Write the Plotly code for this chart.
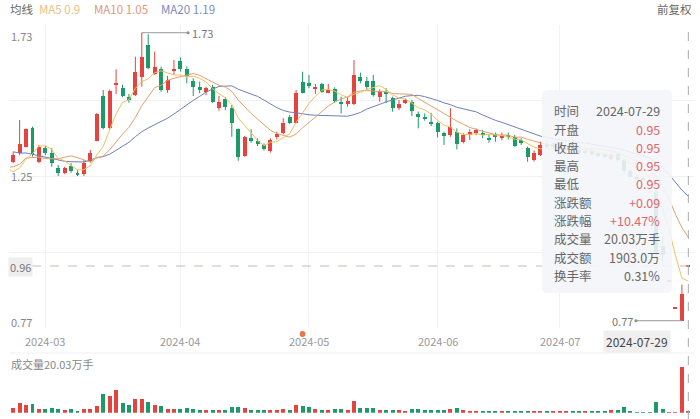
import numpy as np
import pandas as pd
import plotly.graph_objects as go

W, H = 700, 419
FONT = "Noto Sans CJK SC"

# ---------------- data ----------------
holidays = ["2024-02-09", "2024-02-12", "2024-02-13", "2024-02-14", "2024-02-15",
            "2024-02-16", "2024-04-04", "2024-04-05", "2024-05-01", "2024-05-02",
            "2024-05-03", "2024-06-10"]
all_days = [d.strftime("%Y-%m-%d") for d in pd.bdate_range("2024-01-19", "2024-07-29")]
dates_all = [d for d in all_days if d not in holidays]
N_PRIOR = 19
dates = dates_all[N_PRIOR:]          # visible trading days (2024-02-23 .. 2024-07-29)

# closes before the visible window (only used for the moving averages)
prior_close = [1.45, 1.40, 1.42, 1.44, 1.43, 1.40, 1.36, 1.34, 1.30, 1.29,
               1.28, 1.20, 1.30, 1.34, 1.38, 1.30, 1.26, 1.23, 1.223]

open_ = [1.300, 1.330, 1.350, 1.411, 1.300, 1.347, 1.330, 1.280, 1.261, 1.286,
         1.263, 1.259, 1.303, 1.370, 1.519, 1.411, 1.556, 1.545, 1.515, 1.522,
         1.581, 1.689, 1.592, 1.608, 1.539, 1.603, 1.637, 1.608, 1.569, 1.550,
         1.533, 1.550, 1.478, 1.508, 1.478, 1.409, 1.319, 1.380, 1.369, 1.357,
         1.337, 1.383, 1.397, 1.450, 1.430, 1.567, 1.561, 1.541, 1.559, 1.530,
         1.541, 1.500, 1.492, 1.492, 1.581, 1.570, 1.570, 1.517, 1.533, 1.511,
         1.478, 1.497, 1.500, 1.458, 1.450, 1.430, 1.428, 1.395, 1.389, 1.400,
         1.367, 1.389, 1.395, 1.397, 1.380, 1.391, 1.378, 1.389, 1.383, 1.372,
         1.345, 1.306, 1.322, 1.360, 1.350, 1.350, 1.340, 1.350, 1.340, 1.330,
         1.335, 1.330, 1.325, 1.310, 1.325, 1.306, 1.270, 1.250, 1.245, 1.240,
         1.200, 1.020, 0.900, 0.810, 0.770, 0.950]
high = [1.333, 1.439, 1.411, 1.417, 1.356, 1.352, 1.345, 1.289, 1.283, 1.295,
        1.272, 1.306, 1.339, 1.462, 1.539, 1.540, 1.608, 1.556, 1.526, 1.650,
        1.730, 1.725, 1.667, 1.617, 1.586, 1.639, 1.648, 1.617, 1.578, 1.567,
        1.550, 1.556, 1.519, 1.515, 1.489, 1.411, 1.386, 1.408, 1.378, 1.361,
        1.378, 1.400, 1.445, 1.456, 1.539, 1.600, 1.589, 1.559, 1.563, 1.559,
        1.548, 1.517, 1.517, 1.639, 1.597, 1.583, 1.589, 1.541, 1.545, 1.517,
        1.506, 1.511, 1.506, 1.467, 1.461, 1.463, 1.433, 1.400, 1.478, 1.411,
        1.395, 1.408, 1.411, 1.406, 1.389, 1.397, 1.397, 1.397, 1.389, 1.378,
        1.350, 1.337, 1.367, 1.370, 1.365, 1.365, 1.355, 1.355, 1.345, 1.340,
        1.340, 1.335, 1.330, 1.330, 1.330, 1.310, 1.275, 1.255, 1.250, 1.245,
        1.210, 1.050, 0.900, 0.810, 0.890, 0.950]
low = [1.295, 1.322, 1.347, 1.317, 1.295, 1.322, 1.283, 1.252, 1.259, 1.263,
       1.252, 1.252, 1.297, 1.368, 1.408, 1.408, 1.526, 1.515, 1.497, 1.519,
       1.550, 1.608, 1.589, 1.533, 1.530, 1.589, 1.600, 1.561, 1.519, 1.528,
       1.522, 1.497, 1.470, 1.472, 1.383, 1.303, 1.317, 1.363, 1.352, 1.337,
       1.330, 1.374, 1.392, 1.426, 1.428, 1.528, 1.545, 1.526, 1.530, 1.528,
       1.497, 1.461, 1.483, 1.489, 1.561, 1.541, 1.517, 1.500, 1.495, 1.467,
       1.472, 1.492, 1.452, 1.411, 1.437, 1.419, 1.381, 1.356, 1.383, 1.341,
       1.361, 1.372, 1.389, 1.378, 1.363, 1.367, 1.372, 1.374, 1.350, 1.356,
       1.300, 1.300, 1.319, 1.345, 1.345, 1.345, 1.335, 1.335, 1.325, 1.325,
       1.320, 1.315, 1.310, 1.305, 1.300, 1.260, 1.245, 1.240, 1.235, 1.230,
       0.980, 0.970, 0.900, 0.810, 0.770, 0.950]
close = [1.322, 1.359, 1.408, 1.322, 1.348, 1.330, 1.295, 1.261, 1.280, 1.270,
         1.259, 1.297, 1.328, 1.459, 1.411, 1.537, 1.561, 1.519, 1.506, 1.600,
         1.648, 1.611, 1.617, 1.539, 1.572, 1.608, 1.608, 1.586, 1.550, 1.539,
         1.545, 1.500, 1.500, 1.481, 1.428, 1.317, 1.381, 1.370, 1.359, 1.341,
         1.372, 1.392, 1.430, 1.430, 1.530, 1.530, 1.552, 1.550, 1.533, 1.539,
         1.503, 1.492, 1.502, 1.589, 1.570, 1.550, 1.522, 1.537, 1.528, 1.478,
         1.494, 1.506, 1.470, 1.452, 1.442, 1.426, 1.400, 1.389, 1.417, 1.359,
         1.389, 1.399, 1.406, 1.389, 1.372, 1.381, 1.389, 1.381, 1.352, 1.361,
         1.317, 1.330, 1.356, 1.350, 1.360, 1.360, 1.350, 1.340, 1.330, 1.335,
         1.325, 1.320, 1.315, 1.325, 1.305, 1.270, 1.250, 1.245, 1.240, 1.235,
         1.000, 0.990, 0.900, 0.810, 0.860, 0.950]
volume = [53, 100, 77, 87, 43, 43, 53, 43, 33, 40,
          20, 40, 43, 67, 193, 167, 233, 100, 77, 143,
          143, 110, 77, 67, 43, 43, 43, 53, 43, 33,
          27, 27, 27, 27, 58, 60, 50, 33, 27, 27,
          33, 33, 40, 27, 80, 67, 60, 40, 27, 33,
          43, 40, 33, 122, 55, 55, 53, 28, 35, 35,
          28, 17, 37, 42, 28, 28, 35, 35, 45, 53,
          28, 20, 20, 17, 17, 17, 17, 17, 13, 17,
          23, 23, 23, 17, 17, 17, 13, 17, 17, 13,
          13, 13, 17, 30, 33, 63, 23, 10, 10, 10,
          107, 40, 7, 7, 457, 20.03]

month_ticks = ["2024-03", "2024-04", "2024-05", "2024-06", "2024-07"]
legend_items = [("MA5 0.9", "#e9c184"), ("MA10 1.05", "#e2977a"), ("MA20 1.19", "#7c8cc0")]
tip_labels = ["时间", "开盘", "收盘", "最高", "最低", "涨跌额", "涨跌幅", "成交量", "成交额", "换手率"]
tip_values = ["2024-07-29", "0.95", "0.95", "0.95", "0.95", "+0.09", "+10.47%", "20.03万手", "1903.0万", "0.31%"]

# ---------------- derived ----------------
n = len(dates)
x = np.arange(n)
O, Hh, L, C = map(np.array, (open_, high, low, close))
up = C >= O
RED, GREEN = "#e4443f", "#1d9a68"
colors = [RED if u else GREEN for u in up]

closes_all = pd.Series(prior_close + close)
x_all = np.arange(len(closes_all)) - N_PRIOR
ma = {k: closes_all.rolling(k).mean() for k in (5, 10, 20)}

def px_x(p):  # pixel -> paper
    return p / W

def px_y(p):
    return 1 - p / H

# price axis calibration (pixels)
Y_TOP, Y_BOT = 25, 328
P_TOP, P_BOT = 1.7557, 0.7457
VOL_TOP, VOL_BOT = 366.7, 412.7
X0 = -0.498
X1 = 105.88

fig = go.Figure()

# wicks
for col, mask in ((RED, up), (GREEN, ~up)):
    wx, wy = [], []
    for i in np.where(mask)[0]:
        wx += [x[i], x[i], None]
        wy += [L[i], Hh[i], None]
    fig.add_trace(go.Scatter(x=wx, y=wy, mode="lines", line=dict(color=col, width=1),
                             hoverinfo="skip", showlegend=False, xaxis="x", yaxis="y"))
# bodies
body_h = np.maximum(np.abs(C - O), 0.0035)
fig.add_trace(go.Bar(x=x, y=body_h, base=np.minimum(O, C), width=0.62,
                     marker=dict(color=colors, line=dict(width=0)),
                     hoverinfo="skip", showlegend=False, xaxis="x", yaxis="y"))
# moving averages
for k, col in ((20, "#6f80b6"), (10, "#e2a06e"), (5, "#f1c15f")):
    fig.add_trace(go.Scatter(x=x_all, y=ma[k], mode="lines", line=dict(color=col, width=1),
                             hoverinfo="skip", showlegend=False, xaxis="x", yaxis="y"))
# max / min marker dots
fig.add_trace(go.Scatter(x=[(188 - 13.2) / 6.43, (636 - 13.2) / 6.43], y=[max(high), min(low)],
                         mode="markers", marker=dict(size=3, color="#888"),
                         hoverinfo="skip", showlegend=False, xaxis="x", yaxis="y"))
# volume
fig.add_trace(go.Bar(x=x, y=volume, width=0.62, marker=dict(color=colors, line=dict(width=0)),
                     hoverinfo="skip", showlegend=False, xaxis="x2", yaxis="y2"))

month_idx = [next(i for i, d in enumerate(dates) if d.startswith(m)) for m in month_ticks]

shapes = []
ann = []

# separators
shapes.append(dict(type="line", xref="paper", yref="paper", x0=px_x(10), x1=px_x(694),
                   y0=px_y(353), y1=px_y(353), line=dict(color="#f0f0f0", width=1)))
# crosshair horizontal
yc = 1.73 - (266 - 32.7) / 300
shapes.append(dict(type="line", xref="paper", yref="y", x0=px_x(32), x1=px_x(694), y0=yc, y1=yc,
                   line=dict(color="#c9bcae", width=1, dash="dash")))
# crosshair vertical
shapes.append(dict(type="line", xref="x", yref="paper", x0=n - 1, x1=n - 1, y0=0, y1=px_y(25),
                   line=dict(color="#aaaaaa", width=1, dash="dash")))
# max / min marker lines
imax = int(np.argmax(high)); imin = int(np.argmin(low))
shapes.append(dict(type="line", xref="x", yref="y", x0=imax, x1=(188 - 13.2) / 6.43,
                   y0=max(high), y1=max(high), line=dict(color="#999", width=1)))
shapes.append(dict(type="line", xref="x", yref="y", x0=(636 - 13.2) / 6.43, x1=imin,
                   y0=min(low), y1=min(low), line=dict(color="#999", width=1)))
# event dot
shapes.append(dict(type="circle", xref="x", yref="paper", x0=45 - 0.45, x1=45 + 0.45,
                   y0=px_y(337), y1=px_y(331), fillcolor="#e8764f", line=dict(width=0)))

# tooltip box (rounded)
bx0, bx1, by0, by1, r = 542, 672, 90, 293, 6
def P(a, b):
    return f"{px_x(a):.5f},{px_y(b):.5f}"
path = (f"M {P(bx0 + r, by0)} L {P(bx1 - r, by0)} Q {P(bx1, by0)} {P(bx1, by0 + r)} "
        f"L {P(bx1, by1 - r)} Q {P(bx1, by1)} {P(bx1 - r, by1)} L {P(bx0 + r, by1)} "
        f"Q {P(bx0, by1)} {P(bx0, by1 - r)} L {P(bx0, by0 + r)} Q {P(bx0, by0)} {P(bx0 + r, by0)} Z")
shapes.append(dict(type="path", xref="paper", yref="paper", path=path,
                   fillcolor="rgba(243,245,249,0.90)", line=dict(width=0), layer="above"))

for k, (lab, val) in enumerate(zip(tip_labels, tip_values)):
    yy = 110.7 + 18.3 * k
    ann.append(dict(x=px_x(551.5), y=px_y(yy), xref="paper", yref="paper", text=lab,
                    xanchor="left", yanchor="middle", showarrow=False,
                    font=dict(family=FONT, size=12.5, color="#666")))
    vcol = "#e06767" if 1 <= k <= 6 else "#666"
    ann.append(dict(x=px_x(662), y=px_y(yy), xref="paper", yref="paper", text=val,
                    xanchor="right", yanchor="middle", showarrow=False,
                    font=dict(family=FONT, size=12.5, color=vcol)))

# legend line
ann.append(dict(x=px_x(8), y=px_y(9), xref="paper", yref="paper", text="均线", xanchor="left",
                yanchor="middle", showarrow=False, font=dict(family=FONT, size=11.5, color="#666")))
for (txt, col), xp in zip(legend_items, (37, 92, 159)):
    ann.append(dict(x=px_x(xp), y=px_y(9), xref="paper", yref="paper", text=txt, xanchor="left",
                    yanchor="middle", showarrow=False, font=dict(family=FONT, size=11.5, color=col)))
ann.append(dict(x=px_x(694), y=px_y(9), xref="paper", yref="paper", text="前复权", xanchor="right",
                yanchor="middle", showarrow=False, font=dict(family=FONT, size=11.5, color="#666")))

# price labels
for txt, yy in (("1.73", 36), ("1.25", 176), ("0.77", 322)):
    ann.append(dict(x=px_x(9), y=px_y(yy), xref="paper", yref="paper", text=txt, xanchor="left",
                    yanchor="middle", showarrow=False, font=dict(family=FONT, size=11, color="#888")))
ann.append(dict(x=px_x(8), y=px_y(266.5), xref="paper", yref="paper", text="0.96", xanchor="left",
                yanchor="middle", showarrow=False, bgcolor="#eeeeee", borderpad=1,
                font=dict(family=FONT, size=11, color="#777")))
# max/min text
ann.append(dict(x=px_x(190), y=px_y(32.5), xref="paper", yref="paper", text=f"{max(high):.2f}",
                xanchor="left", yanchor="middle", showarrow=False,
                font=dict(family=FONT, size=11, color="#777")))
ann.append(dict(x=px_x(635), y=px_y(320.7), xref="paper", yref="paper", text=f"{min(low):.2f}",
                xanchor="right", yanchor="middle", showarrow=False,
                font=dict(family=FONT, size=11, color="#777")))
# month labels
for m, i in zip(month_ticks, month_idx):
    ann.append(dict(x=i, y=px_y(341), xref="x", yref="paper", text=m, xanchor="center",
                    yanchor="middle", showarrow=False, font=dict(family=FONT, size=11, color="#999")))
# current date label
ann.append(dict(x=px_x(637), y=px_y(341), xref="paper", yref="paper", text=dates[-1],
                xanchor="center", yanchor="middle", showarrow=False, bgcolor="#efefef", borderpad=2,
                font=dict(family=FONT, size=12, color="#444")))
# volume title
ann.append(dict(x=px_x(9), y=px_y(364), xref="paper", yref="paper",
                text=f"成交量{volume[-1]:.2f}万手", xanchor="left", yanchor="middle", showarrow=False,
                font=dict(family=FONT, size=11, color="#888")))

dom_x = [px_x(10), px_x(694)]
fig.update_layout(
    width=W, height=H, margin=dict(l=0, r=0, t=0, b=0),
    paper_bgcolor="white", plot_bgcolor="white", showlegend=False,
    barmode="overlay", bargap=0,
    xaxis=dict(domain=dom_x, range=[X0, X1], anchor="y", tickvals=month_idx, showticklabels=False,
               showgrid=True, gridcolor="#f1f1f1", gridwidth=1, zeroline=False, showline=False, ticks=""),
    yaxis=dict(domain=[px_y(Y_BOT), px_y(Y_TOP)], range=[P_BOT, P_TOP], anchor="x",
               tickvals=list(np.linspace(P_BOT, P_TOP, 5)), showticklabels=False,
               showgrid=True, gridcolor="#f1f1f1", zeroline=False, showline=False, ticks=""),
    xaxis2=dict(domain=dom_x, range=[X0, X1], anchor="y2", matches="x", showticklabels=False,
                showgrid=False, zeroline=False, showline=False, ticks=""),
    yaxis2=dict(domain=[px_y(VOL_BOT), px_y(VOL_TOP)], range=[0, 460], anchor="x2",
                showticklabels=False, showgrid=False, zeroline=False, showline=False, ticks=""),
    shapes=shapes, annotations=ann,
)

fig.write_html("out.html", config={"displayModeBar": False})
